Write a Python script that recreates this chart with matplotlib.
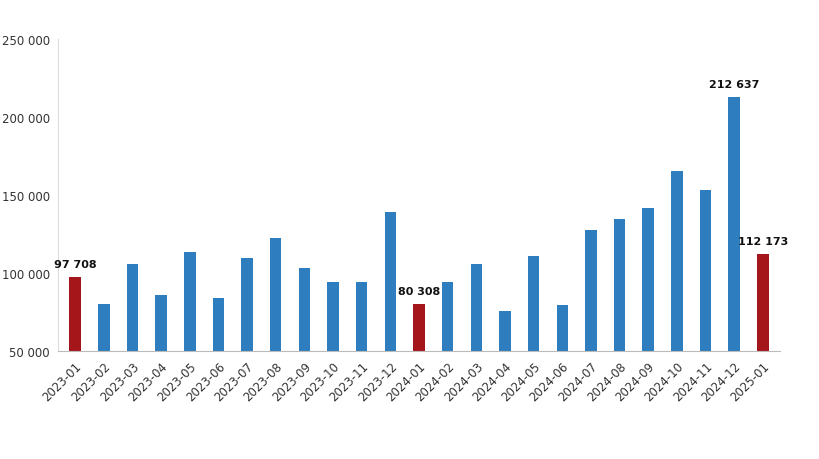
import matplotlib
matplotlib.use("Agg")
import matplotlib.pyplot as plt

months = ["2023-01", "2023-02", "2023-03", "2023-04", "2023-05", "2023-06", "2023-07",
          "2023-08", "2023-09", "2023-10", "2023-11", "2023-12", "2024-01", "2024-02",
          "2024-03", "2024-04", "2024-05", "2024-06", "2024-07", "2024-08", "2024-09",
          "2024-10", "2024-11", "2024-12", "2025-01"]
values = [97708, 80100, 105800, 85900, 113500, 84000, 109600, 122400, 103200, 94200,
          94200, 139100, 80308, 94200, 105800, 75600, 110900, 79500, 127600, 134600,
          141700, 165400, 153200, 212637, 112173]
highlight = ["2023-01", "2024-01", "2025-01"]
labelled = ["2023-01", "2024-01", "2024-12", "2025-01"]

blue = "#2E7EBF"
red = "#A5161B"

fig = plt.figure(figsize=(8.2, 4.6), dpi=100)
ax = fig.add_axes([58 / 820, 1 - 352 / 460, 722 / 820, 312 / 460])

colors = [red if m in highlight else blue for m in months]
x = range(len(months))
ax.bar(x, values, width=0.4, color=colors, zorder=2)

for i, m in enumerate(months):
    if m in labelled:
        txt = f"{values[i]:,}".replace(",", " ")
        ax.text(i, values[i] + 5000, txt, ha="center", va="bottom",
                fontsize=8, fontweight="bold", color="#111111")

ax.set_ylim(50000, 250000)
ax.set_xlim(-0.6, len(months) - 0.4)
yt = [50000, 100000, 150000, 200000, 250000]
ax.set_yticks(yt)
ax.set_yticklabels([f"{v:,}".replace(",", " ") for v in yt], fontsize=8.5, color="#333333")
ax.set_xticks(list(x))
ax.set_xticklabels(months, rotation=45, ha="right", rotation_mode="anchor",
                   fontsize=8.5, color="#333333")
ax.tick_params(length=0, pad=6)
for s in ["top", "right"]:
    ax.spines[s].set_visible(False)
ax.spines["left"].set_color("#dddddd")
ax.spines["bottom"].set_color("#bbbbbb")

fig.savefig("out.png", dpi=100)
